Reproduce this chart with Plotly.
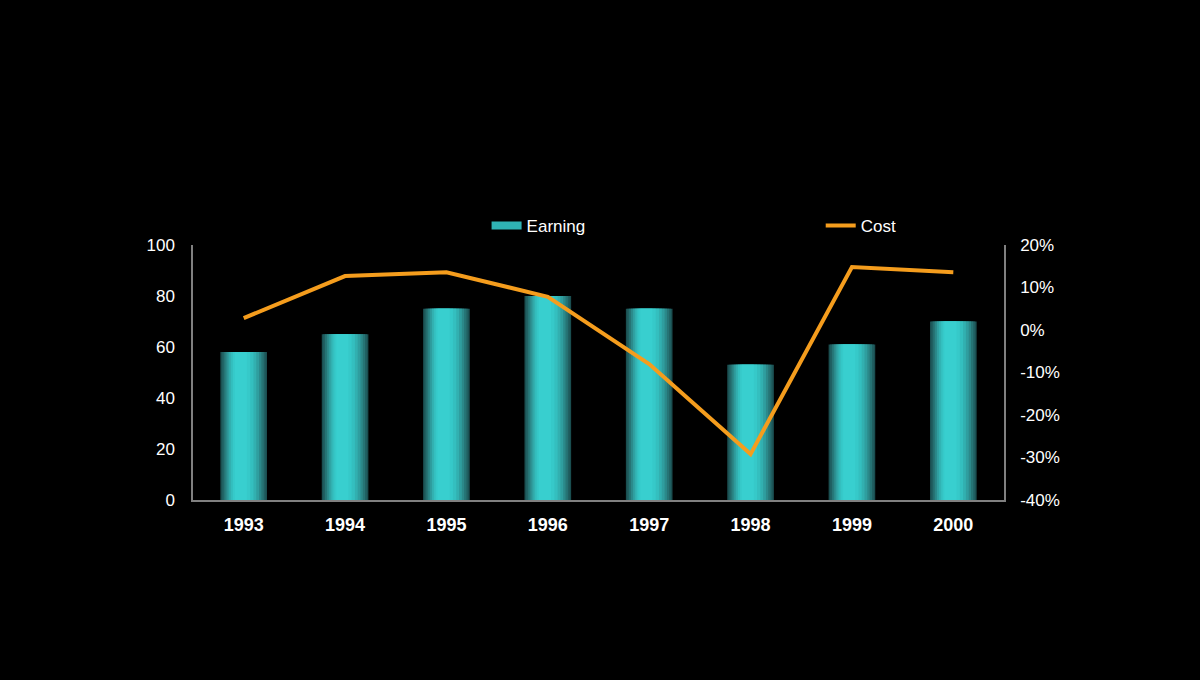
import plotly.graph_objects as go

years = ["1993", "1994", "1995", "1996", "1997", "1998", "1999", "2000"]
earning = [58, 65, 75, 80, 75, 53, 61, 70]
cost = [2.8, 12.7, 13.6, 7.8, -8.0, -29.2, 14.8, 13.6]
left_ticks = [0, 20, 40, 60, 80, 100]
right_ticks = [-40, -30, -20, -10, 0, 10, 20]
right_labels = ["-40%", "-30%", "-20%", "-10%", "0%", "10%", "20%"]

fig = go.Figure()

BAR_W = 0.46
# gradient layers: (left frac, right frac, colour)
layers = [
    (0.00, 1.00, "#1a4e50"),
    (0.03, 0.97, "#205f61"),
    (0.07, 0.93, "#267475"),
    (0.11, 0.88, "#2b898a"),
    (0.15, 0.83, "#2f9e9f"),
    (0.19, 0.77, "#32b0b0"),
    (0.23, 0.71, "#34bfbf"),
    (0.27, 0.64, "#36c9c9"),
    (0.31, 0.57, "#38cfcf"),
]
for i, (a, b, col) in enumerate(layers):
    fig.add_trace(go.Bar(
        x=years, y=earning,
        width=BAR_W * (b - a),
        offset=-BAR_W / 2 + BAR_W * a,
        marker=dict(color=col, line=dict(width=0)),
        name="Earning", showlegend=False, legendgroup="earn",
        hoverinfo="skip" if i else None,
    ))

# legend-only swatch for Earning (wide rectangle like the original)
fig.add_trace(go.Scatter(
    x=[None], y=[None], mode="lines",
    line=dict(color="#2fb3b4", width=8),
    name="Earning", legendgroup="earn", legend="legend",
))

fig.add_trace(go.Scatter(
    x=years, y=cost, yaxis="y2", mode="lines",
    line=dict(color="#f59d1d", width=4),
    name="Cost", legend="legend2",
))

leg_common = dict(
    orientation="h", xanchor="left", yanchor="middle", y=1.0745,
    font=dict(size=17, color="white", family="Liberation Sans, Arial"),
    bgcolor="rgba(0,0,0,0)", borderwidth=0,
)

fig.update_layout(
    width=1200, height=680,
    paper_bgcolor="black", plot_bgcolor="black",
    barmode="overlay",
    margin=dict(l=193, r=196, t=245, b=180),
    font=dict(family="Liberation Sans, Arial", color="white", size=16),
    showlegend=True,
    legend=dict(x=0.362, **leg_common),
    legend2=dict(x=0.774, **leg_common),
    xaxis=dict(
        type="category", showgrid=False, showline=True, linecolor="#808080",
        linewidth=1.5, ticks="", ticklabelstandoff=8,
        tickfont=dict(size=18, color="white",
                      family="Liberation Sans, Arial", weight="bold"),
        range=[-0.5, 7.5],
    ),
    yaxis=dict(
        range=[0, 100], tickvals=left_ticks, showgrid=False, zeroline=False,
        showline=True, linecolor="#808080", linewidth=1.5, ticks="",
        ticklabelstandoff=13, tickfont=dict(size=17, color="white"),
    ),
    yaxis2=dict(
        range=[-40, 20], tickvals=right_ticks, ticktext=right_labels,
        overlaying="y", side="right", showgrid=False, zeroline=False,
        showline=True, linecolor="#808080", linewidth=1.5, ticks="",
        ticklabelstandoff=11, tickfont=dict(size=17, color="white"),
    ),
)

fig.write_html("out.html")
